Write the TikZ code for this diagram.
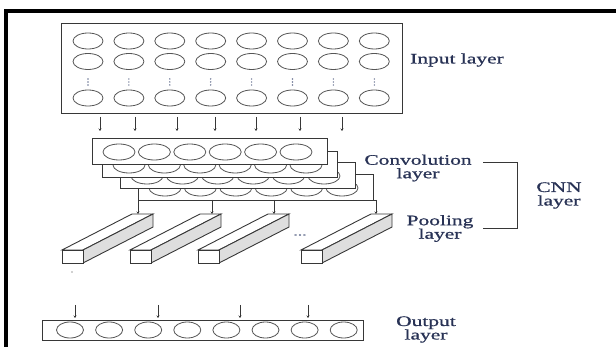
\documentclass[tikz,border=0pt]{standalone}
\usepackage{fontspec}
\newfontfamily\lblfont[FakeStretch=1.48,FakeBold=0.9]{Liberation Serif}
\usetikzlibrary{shapes.geometric,arrows.meta}
\definecolor{lblcol}{RGB}{40,50,85}
\definecolor{linecol}{RGB}{55,55,55}
\definecolor{cellcol}{RGB}{85,85,85}
\definecolor{sidecol}{RGB}{222,222,222}
\definecolor{dotcol}{RGB}{110,120,150}
\begin{document}
\begin{tikzpicture}[x=1pt,y=-1pt,
  cell/.style={ellipse,draw=cellcol,line width=0.8pt,fill=white,minimum width=#1,minimum height=16pt,inner sep=0pt},
  layerbox/.style={draw=linecol,line width=0.9pt,fill=white},
  link/.style={draw=linecol,line width=0.9pt,-{Stealth[length=2.5pt,width=3pt]}},
  plain/.style={draw=linecol,line width=0.9pt},
  lbl/.style={text=lblcol,font=\lblfont\fontsize{14.5}{13.5}\selectfont,align=center,inner sep=0pt},
  frame/.style={draw=black,line width=4pt}
]
\useasboundingbox (0,0) rectangle (616,347);
% frame (top and left edges)
\coordinate (fr1) at (616,11);
\coordinate (fr2) at (5.5,11);
\coordinate (fr3) at (5.5,347);
\draw[frame] (fr1) -- (fr2) -- (fr3);

% ---------- input layer ----------
\node[layerbox,minimum width=341pt,minimum height=90pt,inner sep=0pt,anchor=north west] (inbox) at (61,23) {};
\foreach \i in {0,...,7}{
  \pgfmathsetmacro{\xx}{88+40.9*\i}
  \node[cell=30pt] (in1-\i) at (\xx,41) {};
  \node[cell=30pt] (in2-\i) at (\xx,61.5) {};
  \node[cell=30pt] (in3-\i) at (\xx,98) {};
  \foreach \yy in {79,82,85}{ \fill[dotcol] (\xx,\yy) circle (0.8pt); }
}
\node[lbl,anchor=west] (inlbl) at (410,60) {Input layer};

% connectors input -> convolution
\foreach \xx [count=\k] in {100,135,177,215,256,300,342}{
  \coordinate (ia\k) at (\xx,117);
  \coordinate (ib\k) at (\xx,131);
  \draw[link] (ia\k) -- (ib\k);
}

% ---------- convolution layers (back to front) ----------
\foreach \dx/\dy/\k in {46/36/3,28/24/2,10/13/1,0/0/0}{
  \node[layerbox,minimum width=235pt,minimum height=26pt,inner sep=0pt,anchor=north west] (conv\k) at (92+\dx,138+\dy) {};
  \foreach \j in {0,...,5}{
    \node[cell=32pt] (c\k-\j) at (119+35.4*\j+\dx,152+\dy) {};
  }
}
\node[lbl] (convlbl) at (418,168) {Convolution\\layer};

% connectors convolution -> pooling
\foreach \xx [count=\k] in {138,212,274,376}{
  \coordinate (pa\k) at (\xx,200);
  \coordinate (pb\k) at (\xx,214);
  \draw[link] (pa\k) -- (pb\k);
}
\coordinate (bar1) at (373,200);
\coordinate (bar2) at (376,200);
\draw[plain] (bar1) -- (bar2);

% ---------- pooling blocks ----------
\foreach \fx [count=\k] in {62,130,198,301}{
  \filldraw[plain,fill=white] (\fx,250) -- (\fx+70,214) -- (\fx+91,214) -- (\fx+21,250) -- cycle;
  \filldraw[plain,fill=sidecol] (\fx+21,250) -- (\fx+91,214) -- (\fx+91,227) -- (\fx+21,263) -- cycle;
  \node[layerbox,minimum width=21pt,minimum height=13pt,inner sep=0pt,anchor=north west] (pool\k) at (\fx,250) {};
}
\node[text=dotcol,inner sep=0pt,font=\lblfont\fontsize{12}{12}\selectfont] (pdots) at (300,235) {...};
\fill[linecol] (72,272) circle (0.6pt);
\node[lbl] (poollbl) at (440,228.5) {Pooling\\layer};

% CNN bracket
\coordinate (br1) at (483,162);
\coordinate (br2) at (517,162);
\coordinate (br3) at (517,228);
\coordinate (br4) at (483,228);
\draw[plain] (br1) -- (br2) -- (br3) -- (br4);
\node[lbl] (cnnlbl) at (559,195.5) {CNN\\layer};

% ---------- output layer ----------
\node[layerbox,minimum width=321pt,minimum height=20pt,inner sep=0pt,anchor=north west] (outbox) at (42,320) {};
\foreach \i in {0,...,7}{
  \node[cell=27pt] (out-\i) at (70+39.1*\i,330) {};
}
\foreach \xx [count=\k] in {75,158,240,308}{
  \coordinate (oa\k) at (\xx,305);
  \coordinate (ob\k) at (\xx,318);
  \draw[link] (oa\k) -- (ob\k);
}
\node[lbl] (outlbl) at (426,329.5) {Output\\layer};
\end{tikzpicture}
\end{document}
